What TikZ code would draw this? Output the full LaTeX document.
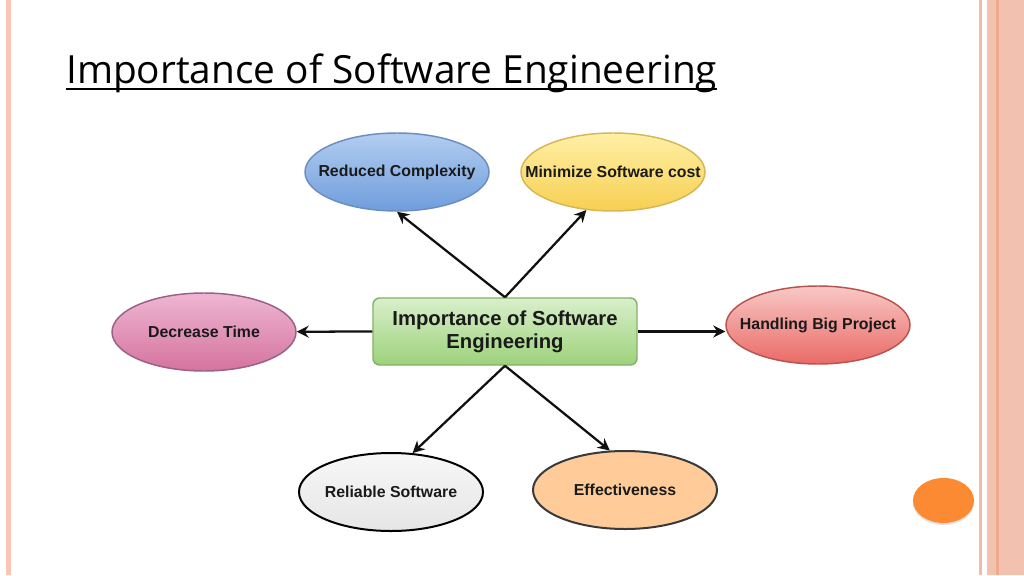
\documentclass[tikz,border=0pt]{standalone}
\usepackage{fontspec}
\setmainfont{Liberation Sans}
\newfontfamily\titlefont{Open Sans}
\usetikzlibrary{shapes.geometric,arrows.meta,shadows}
\definecolor{txt}{HTML}{1A1A1A}
\definecolor{arr}{HTML}{111111}
\definecolor{bluetop}{HTML}{B2CDF0}
\definecolor{bluebot}{HTML}{6F9DDC}
\definecolor{blueln}{HTML}{6C8EBF}
\definecolor{yeltop}{HTML}{FFF0A6}
\definecolor{yelbot}{HTML}{F7CF52}
\definecolor{yelln}{HTML}{D6B656}
\definecolor{grntop}{HTML}{D9EFCB}
\definecolor{grnbot}{HTML}{9CD27A}
\definecolor{grnln}{HTML}{82B366}
\definecolor{pnktop}{HTML}{EEB6D3}
\definecolor{pnkbot}{HTML}{D5739E}
\definecolor{pnkln}{HTML}{996185}
\definecolor{redtop}{HTML}{F8C8C6}
\definecolor{redbot}{HTML}{E96A66}
\definecolor{redln}{HTML}{B85450}
\definecolor{grytop}{HTML}{F7F7F7}
\definecolor{grybot}{HTML}{E6E6E6}
\definecolor{orgfill}{HTML}{FFCC99}
\definecolor{orgln}{HTML}{36393D}
\definecolor{dotc}{HTML}{FB8A33}
\definecolor{lline}{HTML}{F9C5B5}
\definecolor{rthin}{HTML}{F6BBA6}
\definecolor{rband}{HTML}{F2C1B0}
\definecolor{rdark}{HTML}{EFA98E}
\begin{document}
\begin{tikzpicture}[x=0.75pt,y=-0.75pt,
  oval/.style={ellipse, draw, line width=1.1pt, minimum width=138pt, minimum height=58.5pt,
    inner sep=0pt, font=\bfseries\fontsize{11.9}{14}\selectfont, text=txt},
  conn/.style={line width=1.7pt, draw=arr, -{Stealth[length=9pt,width=9pt,inset=3pt]}}
]
\useasboundingbox (0,0) rectangle (1024,575);
\fill[white] (0,0) rectangle (1024,575);
% side decorations
\fill[lline] (6,0) rectangle (11,575);
\fill[rthin] (979,0) rectangle (982,575);
\fill[rband] (987,0) rectangle (1024,575);
\fill[rdark] (996,0) rectangle (999,575);
% title
\node[anchor=base west, inner sep=0pt, text=black, font=\titlefont\fontsize{29.1}{32}\selectfont] (title) at (66,83) {Importance of Software Engineering};
\draw[line width=1.5pt, black] ([yshift=-4.5pt]title.base west) -- ([yshift=-4.5pt]title.base east);
% centre
\node[rectangle, rounded corners=5pt, draw=grnln, line width=1.1pt, top color=grntop, bottom color=grnbot,
  minimum width=198pt, minimum height=50.25pt, align=center, text=txt, text depth=3pt,
  font=\bfseries\fontsize{15.2}{17.25}\selectfont] (c) at (505,331.5) {Importance of Software\\Engineering};
% ovals
\node[oval, draw=blueln, top color=bluetop, bottom color=bluebot] (rc) at (397,172) {\makebox[0pt]{Reduced Complexity}};
\node[oval, draw=yelln, top color=yeltop, bottom color=yelbot] (mc) at (613,172) {\makebox[0pt]{Minimize Software cost}};
\node[oval, draw=pnkln, top color=pnktop, bottom color=pnkbot] (dt) at (204,332) {\makebox[0pt]{Decrease Time}};
\node[oval, draw=redln, top color=redtop, bottom color=redbot] (hb) at (818,325) {\makebox[0pt]{Handling Big Project}};
\node[oval, draw=black, line width=1.5pt, top color=grytop, bottom color=grybot] (rs) at (391,492) {\makebox[0pt]{Reliable Software}};
\node[oval, draw=orgln, line width=1.5pt, fill=orgfill] (ef) at (625,490) {\makebox[0pt]{Effectiveness}};
% connectors
\draw[conn] (c.north) -- (rc.south);
\draw[conn] (c.north) -- (mc.-125);
\draw[conn] (c.west) -- (dt);
\draw[conn] (c.east) -- (c.east -| hb.west);
\draw[conn] (c.south) -- (rs.61);
\draw[conn] (c.south) -- (ef.111);
% orange dot
\node[ellipse, fill=dotc, minimum width=45.75pt, minimum height=33.75pt, inner sep=0pt,
  drop shadow={opacity=0.25, shadow xshift=0pt, shadow yshift=-1.5pt}] (dot) at (943.5,500.5) {};
\end{tikzpicture}
\end{document}
